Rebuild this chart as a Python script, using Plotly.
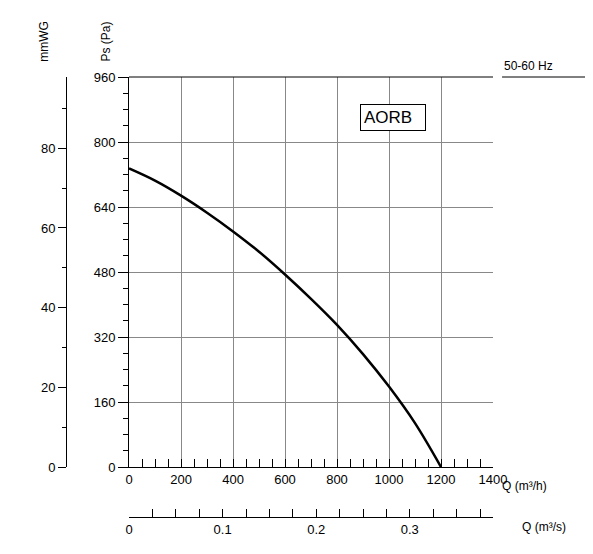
import plotly.graph_objects as go

q_m3h = [0, 100, 200, 300, 400, 500, 600, 700, 800, 900, 1000, 1100, 1200]
ps_pa = [735, 705, 668, 626, 580, 530, 474, 414, 350, 278, 198, 108, 0]

fig = go.Figure()
fig.add_trace(go.Scatter(x=q_m3h, y=ps_pa, mode="lines", line=dict(color="black", width=2.5, shape="spline"), showlegend=False))
fig.add_trace(go.Scatter(x=[0], y=[0], xaxis="x2", yaxis="y", mode="markers", marker=dict(opacity=0), showlegend=False, hoverinfo="skip"))
fig.add_trace(go.Scatter(x=[0], y=[0], xaxis="x", yaxis="y2", mode="markers", marker=dict(opacity=0), showlegend=False, hoverinfo="skip"))

f = dict(family="Arial, Liberation Sans", size=13, color="black")
fig.update_layout(
    width=593, height=554, margin=dict(l=32, r=108, t=69, b=45),
    plot_bgcolor="white", paper_bgcolor="white", font=f,
    xaxis=dict(domain=[0.1965, 1], range=[0, 1400], dtick=200, anchor="y", showgrid=True, gridcolor="#888", gridwidth=1,
               ticks="inside", ticklen=8, tickcolor="black", showline=True, linecolor="black", zeroline=False,
               minor=dict(dtick=50, ticks="inside", ticklen=8, tickcolor="black", showgrid=False)),
    yaxis=dict(domain=[0.1136, 1], range=[0, 960], dtick=160, showgrid=True, gridcolor="#888", anchor="x",
               ticks="outside", ticklen=10, tickcolor="black", showline=True, linecolor="black", zeroline=False,
               minor=dict(dtick=40, ticks="outside", ticklen=5, tickcolor="black", showgrid=False)),
    xaxis2=dict(domain=[0.1965, 1], range=[0, 1400/3600], dtick=0.1, anchor="free", position=0, overlaying="x",
                ticks="inside", ticklen=8, tickcolor="black", showline=True, linecolor="black", showgrid=False, zeroline=False,
                minor=dict(dtick=0.025, ticks="inside", ticklen=8, tickcolor="black")),
    yaxis2=dict(domain=[0.1136, 1], range=[0, 960/9.80665], dtick=20, anchor="free", position=0.0574, overlaying="y",
                side="left", ticks="outside", ticklen=8, tickcolor="black", showline=True, linecolor="black",
                showgrid=False, zeroline=False, minor=dict(dtick=10, ticks="outside", ticklen=4, tickcolor="black")),
)
fig.add_shape(type="line", xref="paper", yref="paper", x0=0.1965, x1=1, y0=1, y1=1, line=dict(color="black", width=1))
fig.add_annotation(text="Q (m³/h)", xref="paper", yref="paper", x=1.015, y=0.1136, xanchor="left", yanchor="top", showarrow=False, yshift=-10, font=dict(size=12))
fig.add_annotation(text="Q (m³/s)", xref="paper", yref="paper", x=1.06, y=0.0, xanchor="left", yanchor="top", showarrow=False, yshift=-1, font=dict(size=12))
fig.add_annotation(text="Ps (Pa)", xref="paper", yref="paper", x=0.145, y=1.03, xanchor="center", yanchor="bottom", textangle=-90, showarrow=False, font=dict(size=12))
fig.add_annotation(text="mmWG", xref="paper", yref="paper", x=0.01, y=1.03, xanchor="center", yanchor="bottom", textangle=-90, showarrow=False, font=dict(size=12))
fig.add_annotation(text="50-60 Hz", xref="paper", yref="paper", x=1.02, y=1.005, xanchor="left", yanchor="bottom", showarrow=False, font=dict(size=12))
fig.add_shape(type="line", xref="paper", yref="paper", x0=1.02, x1=1.21, y0=1.0, y1=1.0, line=dict(color="black", width=1))
fig.add_annotation(text="AORB  ", x=890, y=860, xanchor="left", yanchor="middle", showarrow=False, bordercolor="black", borderwidth=1,
                   bgcolor="white", borderpad=3, font=dict(size=17))
fig.write_html("out.html")
